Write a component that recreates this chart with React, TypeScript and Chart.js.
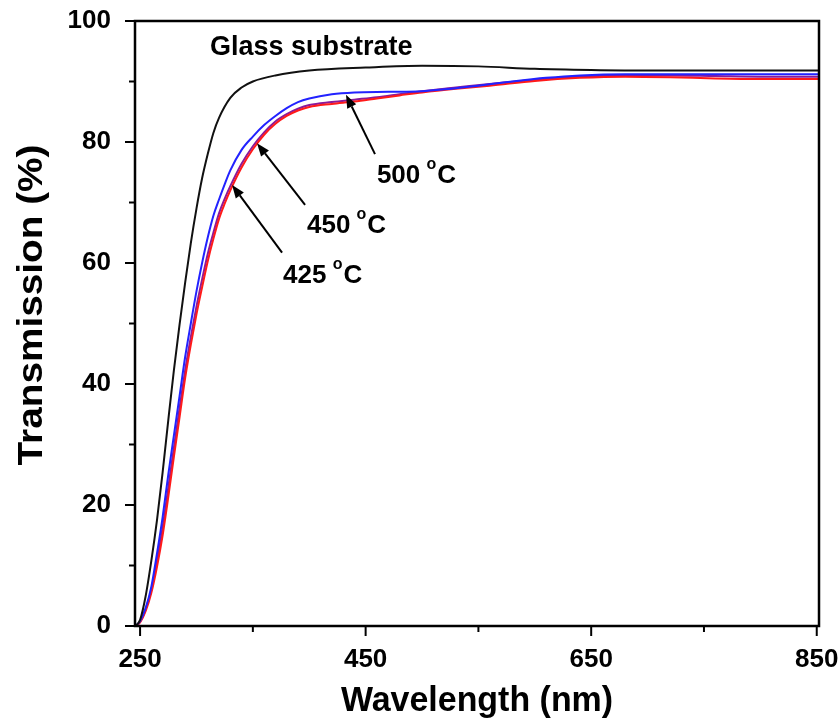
import React, { useEffect, useRef } from "react";
import { Chart, registerables } from "chart.js";

Chart.register(...registerables);

// ---- data (wavelength in nm, transmission in %) ----
const glassWl = [246, 250, 255, 260, 265, 270, 275, 280, 285, 290, 295, 300, 305, 310, 315, 320, 330, 340, 350, 370, 400, 450, 500, 550, 600, 650, 700, 852];
const glassT = [0, 1, 5, 10.8, 17.5, 25.4, 34, 42.3, 49.8, 56.8, 63.3, 69, 74, 78, 81.5, 84, 87.3, 89, 90, 91, 91.8, 92.3, 92.6, 92.5, 92.1, 91.9, 91.8, 91.8];

const t500Wl = [246, 250, 255, 260, 265, 270, 275, 280, 285, 290, 295, 300, 305, 310, 315, 320, 325, 330, 340, 350, 360, 370, 380, 390, 400, 420, 440, 470, 500, 520, 550, 580, 610, 640, 680, 760, 852];
const t500T = [0, 0.8, 3, 6.5, 12, 18, 25, 31.5, 38, 44.5, 50, 55.3, 60, 64.2, 67.8, 70.5, 73, 75.3, 78.7, 80.9, 82.8, 84.3, 85.6, 86.6, 87.2, 87.9, 88.2, 88.3, 88.4, 88.7, 89.3, 90, 90.6, 91, 91.2, 91.2, 91.2];

const t450Wl = [246, 250, 255, 260, 265, 270, 274, 280, 285, 290, 295, 300, 305, 310, 315, 320, 325, 330, 340, 350, 360, 370, 380, 390, 400, 420, 440, 460, 480, 500, 530, 560, 600, 640, 680, 720, 760, 800, 852];
const t450T = [0, 0.7, 2.8, 6, 10.8, 16.3, 21.5, 29.5, 36, 42.3, 47.8, 52.8, 57.3, 61.5, 65, 68.2, 70.6, 72.7, 76.4, 79.3, 81.6, 83.4, 84.6, 85.5, 86.1, 86.6, 87, 87.4, 87.9, 88.4, 89, 89.6, 90.3, 90.8, 91, 91, 90.9, 90.8, 90.8];

const t425Wl = [246, 250, 255, 260, 265, 270, 274, 280, 285, 290, 295, 300, 305, 310, 315, 320, 325, 330, 340, 350, 360, 370, 380, 390, 400, 420, 440, 460, 480, 500, 530, 560, 600, 640, 680, 720, 760, 800, 852];
const t425T = [0, 0.6, 2.5, 5.5, 9.8, 15, 20, 28, 34.5, 41, 46.5, 51.5, 56, 60.3, 64, 67.3, 69.8, 72, 75.8, 78.8, 81.2, 83, 84.3, 85.2, 85.8, 86.3, 86.7, 87.2, 87.7, 88.2, 88.8, 89.3, 90.1, 90.6, 90.8, 90.7, 90.5, 90.4, 90.4];

const xTickValues = [250, 350, 450, 550, 650, 750, 850];
const xLabelValues = [250, 450, 650, 850];
const yTickValues = [0, 10, 20, 30, 40, 50, 60, 70, 80, 90, 100];
const yLabelValues = [0, 20, 40, 60, 80, 100];

const xTitle = "Wavelength (nm)";
const yTitle = "Transmission (%)";
const seriesLabels = ["Glass substrate", "500 °C", "450 °C", "425 °C"];

// annotations in data coordinates
const textNotes = [
  { text: "Glass substrate", x: 312, y: 94.4, deg: false },
  { text: "500 ", x: 460, y: 73.2, deg: true },
  { text: "450 ", x: 398, y: 65.0, deg: true },
  { text: "425 ", x: 376.8, y: 56.7, deg: true },
];
const arrowNotes = [
  { x1: 458.3, y1: 78.0, x2: 432.6, y2: 87.8 },
  { x1: 396.3, y1: 69.6, x2: 353.7, y2: 79.8 },
  { x1: 375.9, y1: 61.7, x2: 331.6, y2: 72.9 },
];

const FONT = '"Liberation Sans", Arial, Helvetica, sans-serif';

const toPoints = (xs: number[], ys: number[]) => xs.map((x, i) => ({ x, y: ys[i] }));

const zeroPad = (s: any) => {
  s.paddingTop = 0;
  s.paddingBottom = 0;
  s.paddingLeft = 0;
  s.paddingRight = 0;
};

const decorPlugin = {
  id: "decor",
  afterDatasetsDraw(chart: any) {
    const ctx = chart.ctx as CanvasRenderingContext2D;
    const { left, right, top, bottom } = chart.chartArea;
    const xs = chart.scales.x;
    const ys = chart.scales.y;
    ctx.save();
    // frame
    ctx.strokeStyle = "#000";
    ctx.lineWidth = 2.5;
    ctx.strokeRect(left, top, right - left, bottom - top);
    // ticks
    ctx.lineWidth = 2;
    xTickValues.forEach((v) => {
      const px = xs.getPixelForValue(v);
      const len = xLabelValues.includes(v) ? 10 : 6;
      ctx.beginPath();
      ctx.moveTo(px, bottom);
      ctx.lineTo(px, bottom + len);
      ctx.stroke();
    });
    yTickValues.forEach((v) => {
      const py = ys.getPixelForValue(v);
      const len = yLabelValues.includes(v) ? 10 : 6;
      ctx.beginPath();
      ctx.moveTo(left, py);
      ctx.lineTo(left - len, py);
      ctx.stroke();
    });
    // axis titles
    ctx.fillStyle = "#000";
    ctx.font = `bold 35px ${FONT}`;
    ctx.textAlign = "center";
    ctx.textBaseline = "alphabetic";
    ctx.save();
    ctx.translate((left + right) / 2, 711);
    ctx.scale(0.97, 1);
    ctx.fillText(xTitle, 0, 0);
    ctx.restore();
    ctx.save();
    ctx.translate(42, 305);
    ctx.rotate(-Math.PI / 2);
    ctx.font = `bold 38px ${FONT}`;
    ctx.scale(1.02, 0.9);
    ctx.fillText(yTitle, 0, 0);
    ctx.restore();
    // text annotations
    ctx.textAlign = "left";
    textNotes.forEach((n) => {
      const px = xs.getPixelForValue(n.x);
      const py = ys.getPixelForValue(n.y);
      ctx.font = `bold ${n.deg ? 26 : 27}px ${FONT}`;
      ctx.fillText(n.text, px, py);
      if (n.deg) {
        let w = ctx.measureText(n.text).width;
        ctx.font = `bold 16px ${FONT}`;
        ctx.fillText("o", px + w - 1, py - 14);
        w += ctx.measureText("o").width;
        ctx.font = `bold 26px ${FONT}`;
        ctx.fillText("C", px + w, py);
      }
    });
    // arrows
    ctx.lineWidth = 2;
    arrowNotes.forEach((a) => {
      const x1 = xs.getPixelForValue(a.x1);
      const y1 = ys.getPixelForValue(a.y1);
      const x2 = xs.getPixelForValue(a.x2);
      const y2 = ys.getPixelForValue(a.y2);
      const ang = Math.atan2(y2 - y1, x2 - x1);
      const hl = 13;
      const hw = 5;
      const bx = x2 - hl * Math.cos(ang);
      const by = y2 - hl * Math.sin(ang);
      ctx.beginPath();
      ctx.moveTo(x1, y1);
      ctx.lineTo(bx, by);
      ctx.stroke();
      ctx.beginPath();
      ctx.moveTo(x2, y2);
      ctx.lineTo(bx + hw * Math.sin(ang), by - hw * Math.cos(ang));
      ctx.lineTo(bx - hw * Math.sin(ang), by + hw * Math.cos(ang));
      ctx.closePath();
      ctx.fill();
    });
    ctx.restore();
  },
};

export default function App() {
  const canvasRef = useRef<HTMLCanvasElement | null>(null);

  useEffect(() => {
    if (!canvasRef.current) return;
    const mk = (label: string, xs: number[], ys: number[], color: string) => ({
      label,
      data: toPoints(xs, ys),
      borderColor: color,
      backgroundColor: color,
      borderWidth: 2,
      pointRadius: 0,
      cubicInterpolationMode: "monotone" as const,
      fill: false,
    });
    const chart = new Chart(canvasRef.current, {
      type: "line",
      data: {
        datasets: [
          mk(seriesLabels[0], glassWl, glassT, "#111111"),
          mk(seriesLabels[1], t500Wl, t500T, "#2222ff"),
          mk(seriesLabels[3], t425Wl, t425T, "#ff1a1a"),
          mk(seriesLabels[2], t450Wl, t450T, "#8a1a9a"),
        ],
      },
      options: {
        responsive: false,
        animation: false,
        layout: { padding: { top: 21, right: 20, left: 0, bottom: 0 } },
        plugins: { legend: { display: false }, tooltip: { enabled: false } },
        scales: {
          x: {
            type: "linear",
            min: 245.5,
            max: 852,
            border: { display: false },
            grid: { display: false, drawTicks: false },
            afterBuildTicks: (s: any) => {
              s.ticks = xTickValues.map((v) => ({ value: v }));
            },
            afterFit: (s: any) => {
              s.height = 99;
              zeroPad(s);
            },
            ticks: {
              padding: 18,
              autoSkip: false,
              maxRotation: 0,
              color: "#000",
              font: { family: FONT, size: 26, weight: "bold" },
              callback: (v: any) => (xLabelValues.includes(Number(v)) ? String(v) : ""),
            },
          },
          y: {
            type: "linear",
            min: 0,
            max: 100,
            border: { display: false },
            grid: { display: false, drawTicks: false },
            afterBuildTicks: (s: any) => {
              s.ticks = yTickValues.map((v) => ({ value: v }));
            },
            afterFit: (s: any) => {
              s.width = 135;
              zeroPad(s);
            },
            ticks: {
              padding: 24,
              autoSkip: false,
              color: "#000",
              font: { family: FONT, size: 26, weight: "bold" },
              callback: (v: any) => (yLabelValues.includes(Number(v)) ? String(v) : ""),
            },
          },
        },
      },
      plugins: [decorPlugin],
    });
    return () => chart.destroy();
  }, []);

  return (
    <div style={{ position: "absolute", left: 0, top: 0, width: 839, height: 725, background: "#fff" }}>
      <canvas ref={canvasRef} width={839} height={725} />
    </div>
  );
}
